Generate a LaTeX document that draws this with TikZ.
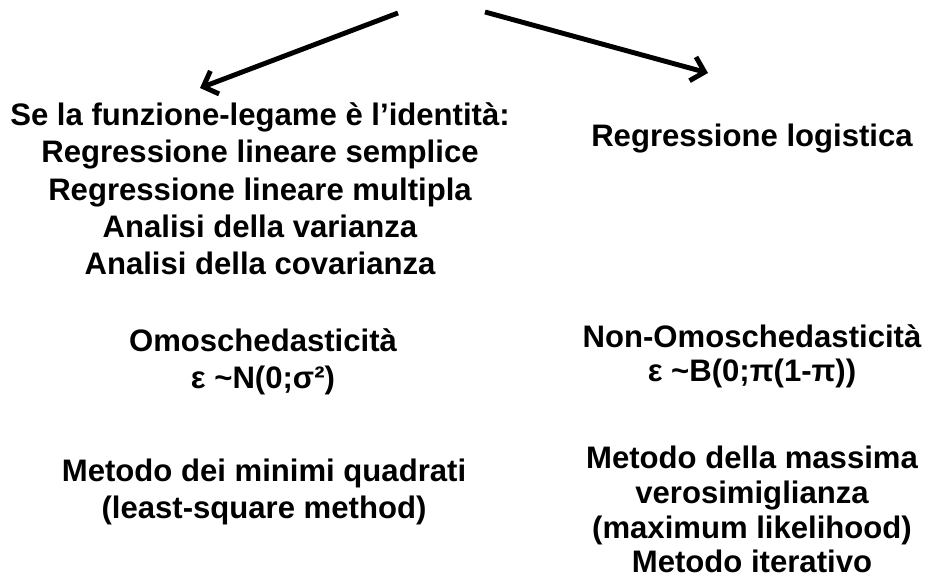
\documentclass[tikz,border=0pt]{standalone}
\usepackage{fontspec}
\setmainfont{Liberation Sans}
\usetikzlibrary{arrows.meta}

\begin{document}
\begin{tikzpicture}[x=0.02cm, y=-0.02cm,
  txt/.style={align=center, inner sep=0pt, anchor=base, font=\bfseries\fontsize{17.7}{21.3}\selectfont},
  txtr/.style={txt, font=\bfseries\fontsize{17.7}{19.8}\selectfont},
  arr/.style={line width=2.8pt, -{Straight Barb[length=7pt,width=14pt]}}]%
\useasboundingbox (0,0) rectangle (930,580);

% arrows from the top
\coordinate (l0) at (398,13);
\coordinate (l1) at (200,88);
\coordinate (r0) at (485,12);
\coordinate (r1) at (708,73);
\draw[arr] (l0) -- (l1);
\draw[arr] (r0) -- (r1);

% left column (anchor = baseline of the last line)
\node[txt] (ident) at (260,275) {Se la funzione-legame è l’identità:\\Regressione lineare semplice\\Regressione lineare multipla\\Analisi della varianza\\Analisi della covarianza};
\node[txt] (omo) at (263,389) {Omoschedasticità\\ε \textasciitilde N(0;σ²)};
\node[txt] (ols) at (264,519) {Metodo dei minimi quadrati\\(least-square method)};

% right column
\node[txt] (logit) at (752,147) {Regressione logistica};
\node[txtr] (nonomo) at (752,382) {Non-Omoschedasticità\\ε \textasciitilde B(0;π(1-π))};
\node[txtr] (mle) at (752,573) {Metodo della massima\\verosimiglianza\\(maximum likelihood)\\Metodo iterativo};
\end{tikzpicture}
\end{document}
